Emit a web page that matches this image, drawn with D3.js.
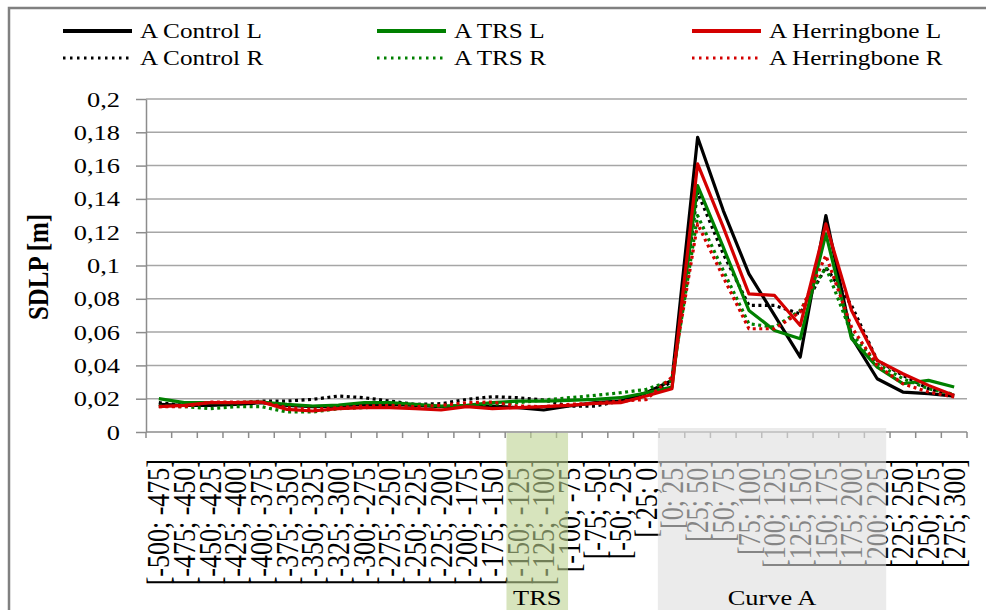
<!DOCTYPE html>
<html>
<head>
<meta charset="utf-8">
<script src="https://cdn.jsdelivr.net/npm/d3@7"></script>
<style>
  body { margin: 0; background: #fff; }
  text { font-family: "Liberation Serif", "Times New Roman", serif; fill: #000; }
</style>
</head>
<body>
<div id="chart"></div>
<script>
// SDLP per 25 m section, curve A

var categories = ["[-500; -475]", "[-475; -450]", "[-450; -425]", "[-425; -400]", "[-400; -375]",
  "[-375; -350]", "[-350; -325]", "[-325; -300]", "[-300; -275]", "[-275; -250]", "[-250; -225]",
  "[-225; -200]", "[-200; -175]", "[-175; -150]", "[-150; -125]", "[-125; -100]", "[-100; -75]",
  "[-75; -50]", "[-50; -25]", "[-25; 0]", "[0; 25]", "[25; 50]", "[50; 75]", "[75; 100]",
  "[100; 125]", "[125; 150]", "[150; 175]", "[175; 200]", "[200; 225]", "[225; 250]",
  "[250; 275]", "[275; 300]"];

var controlL = [0.0166, 0.016, 0.016, 0.0166, 0.0176, 0.016, 0.0152, 0.0156, 0.0166, 0.0166, 0.016,
  0.0152, 0.0156, 0.0156, 0.0146, 0.0132, 0.0156, 0.0176, 0.0186, 0.0236,
  0.031, 0.177, 0.133, 0.095, 0.070, 0.045, 0.130, 0.057, 0.032, 0.024, 0.023, 0.0216];
var controlR = [0.0176, 0.016, 0.0166, 0.0172, 0.0186, 0.0186, 0.0196, 0.0216, 0.0206, 0.0186, 0.0166,
  0.017, 0.0196, 0.0212, 0.0206, 0.0192, 0.0156, 0.0156, 0.0186, 0.0226,
  0.030, 0.144, 0.107, 0.076, 0.076, 0.071, 0.099, 0.076, 0.043, 0.034, 0.026, 0.022];
var trsL = [0.020, 0.0176, 0.0176, 0.0176, 0.018, 0.0166, 0.0156, 0.0162, 0.0176, 0.0176, 0.0166,
  0.0156, 0.016, 0.0176, 0.0186, 0.0186, 0.019, 0.0196, 0.0206, 0.0236,
  0.027, 0.148, 0.111, 0.073, 0.061, 0.056, 0.119, 0.056, 0.039, 0.029, 0.031, 0.027];
var trsR = [0.0156, 0.0152, 0.014, 0.0152, 0.0152, 0.012, 0.012, 0.014, 0.0146, 0.0152, 0.016,
  0.0152, 0.0166, 0.0166, 0.0176, 0.0192, 0.0206, 0.022, 0.0236, 0.0256,
  0.031, 0.130, 0.097, 0.065, 0.063, 0.073, 0.099, 0.059, 0.041, 0.032, 0.026, 0.0226];
var herrL = [0.0152, 0.016, 0.0176, 0.0176, 0.018, 0.0136, 0.0126, 0.014, 0.0146, 0.0146, 0.014,
  0.0132, 0.0152, 0.014, 0.0146, 0.0152, 0.016, 0.0172, 0.0176, 0.0216,
  0.026, 0.161, 0.123, 0.083, 0.082, 0.064, 0.125, 0.073, 0.043, 0.035, 0.028, 0.022];
var herrR = [0.0152, 0.0152, 0.018, 0.018, 0.018, 0.0146, 0.0136, 0.0146, 0.0156, 0.016, 0.0152,
  0.016, 0.0176, 0.018, 0.0156, 0.0152, 0.0166, 0.0172, 0.0186, 0.0195,
  0.033, 0.125, 0.093, 0.062, 0.062, 0.072, 0.106, 0.063, 0.040, 0.029, 0.024, 0.021];

var yTicks = [0, 0.02, 0.04, 0.06, 0.08, 0.1, 0.12, 0.14, 0.16, 0.18, 0.2];

// legend is filled row by row: L series on top, R series below
var series = [
  { name: "A Control L", values: controlL, color: "#000000", dotted: false, col: 0, row: 0 },
  { name: "A TRS L", values: trsL, color: "#008000", dotted: false, col: 1, row: 0 },
  { name: "A Herringbone L", values: herrL, color: "#d40000", dotted: false, col: 2, row: 0 },
  { name: "A Control R", values: controlR, color: "#000000", dotted: true, col: 0, row: 1 },
  { name: "A TRS R", values: trsR, color: "#008000", dotted: true, col: 1, row: 1 },
  { name: "A Herringbone R", values: herrR, color: "#d40000", dotted: true, col: 2, row: 1 }
];
var drawOrder = [3, 0, 4, 1, 5, 2];

// shaded zones under the axis, in category units
var zones = [
  { label: "TRS", from: 14.05, to: 16.45, fill: "#bcd291" },
  { label: "Curve A", from: 19.95, to: 28.85, fill: "#dddddd" }
];

var width = 986, height = 610;
var plotLeft = 146, plotRight = 967, plotTop = 99, plotBottom = 432;
var sx = 1.2; // the picture is a bit stretched sideways

var svg = d3.select("#chart").append("svg")
  .attr("width", width)
  .attr("height", height);

// outer frame
svg.append("rect")
  .attr("x", 9).attr("y", 8)
  .attr("width", width + 20).attr("height", height + 20)
  .attr("fill", "#fff")
  .attr("stroke", "#808080")
  .attr("stroke-width", 2.5);

var x = d3.scaleBand().domain(categories).range([plotLeft, plotRight]).paddingInner(0).paddingOuter(0);
var xi = d3.scaleLinear().domain([0, categories.length]).range([plotLeft, plotRight]);
var y = d3.scaleLinear().domain([0, 0.2]).range([plotBottom, plotTop]);

function fmt(v) { return String(+v.toFixed(2)).replace(".", ","); }

// gridlines
svg.append("g").selectAll("line")
  .data(yTicks.filter(function(d) { return d > 0; }))
  .enter().append("line")
  .attr("x1", plotLeft).attr("x2", plotRight)
  .attr("y1", function(d) { return y(d); })
  .attr("y2", function(d) { return y(d); })
  .attr("stroke", "#a6a6a6")
  .attr("stroke-width", 1.5);

// y axis
var yAxis = svg.append("g")
  .attr("transform", "translate(" + plotLeft + ",0)")
  .call(d3.axisLeft(y).tickValues(yTicks).tickSize(10).tickSizeOuter(0).tickFormat(""));
yAxis.select(".domain").attr("stroke", "#8c8c8c").attr("stroke-width", 1.5);
yAxis.selectAll(".tick line").attr("stroke", "#8c8c8c").attr("stroke-width", 1.5);

svg.append("g").selectAll("text")
  .data(yTicks)
  .enter().append("text")
  .attr("transform", function(d) { return "translate(120," + (y(d) + 7.5) + ") scale(" + sx + ",1)"; })
  .attr("text-anchor", "end")
  .style("font-size", "22px")
  .text(fmt);

svg.append("text")
  .attr("transform", "translate(48,267) scale(" + sx + ",1) rotate(-90)")
  .attr("text-anchor", "middle")
  .style("font-size", "25px")
  .style("font-weight", "bold")
  .text("SDLP [m]");

// x axis: ticks on the category boundaries
var bounds = d3.range(categories.length + 1);
var xAxis = svg.append("g");
xAxis.append("line")
  .attr("x1", plotLeft).attr("x2", plotRight)
  .attr("y1", plotBottom).attr("y2", plotBottom)
  .attr("stroke", "#8c8c8c").attr("stroke-width", 1.5);
xAxis.selectAll(".xt")
  .data(bounds)
  .enter().append("line")
  .attr("class", "xt")
  .attr("x1", function(d) { return xi(d); })
  .attr("x2", function(d) { return xi(d); })
  .attr("y1", plotBottom).attr("y2", plotBottom + 6)
  .attr("stroke", "#8c8c8c").attr("stroke-width", 1.5);

svg.append("g").selectAll("text")
  .data(categories)
  .enter().append("text")
  .attr("transform", function(d) {
    return "translate(" + (x(d) + x.bandwidth() / 2) + ",459) scale(" + sx + ",1) rotate(-90)";
  })
  .attr("text-anchor", "end")
  .attr("dy", "0.34em")
  .style("font-size", "26px")
  .text(function(d) { return d; });

// zones are laid over the labels, half see-through
svg.append("g").selectAll("rect")
  .data(zones)
  .enter().append("rect")
  .attr("x", function(d) { return xi(d.from); })
  .attr("width", function(d) { return xi(d.to) - xi(d.from); })
  .attr("y", function(d) { return d.label == "TRS" ? plotBottom + 1 : plotBottom - 4; })
  .attr("height", function(d) { return height - plotBottom + 4; })
  .attr("fill", function(d) { return d.fill; })
  .attr("fill-opacity", 0.6);

svg.append("g").selectAll("text")
  .data(zones)
  .enter().append("text")
  .attr("transform", function(d) { return "translate(" + (xi(d.from) + xi(d.to)) / 2 + ",605) scale(" + sx + ",1)"; })
  .attr("text-anchor", "middle")
  .style("font-size", "22px")
  .text(function(d) { return d.label; });

// series lines
var line = d3.line()
  .x(function(d, i) { return x(categories[i]) + x.bandwidth() / 2; })
  .y(function(d) { return y(d); });

svg.append("g").selectAll("path")
  .data(drawOrder.map(function(i) { return series[i]; }))
  .enter().append("path")
  .attr("d", function(d) { return line(d.values); })
  .attr("fill", "none")
  .attr("stroke", function(d) { return d.color; })
  .attr("stroke-width", 3.2)
  .attr("stroke-linejoin", "round")
  .attr("stroke-dasharray", function(d) { return d.dotted ? "3,3.5" : null; });

// legend
var colX = [63, 377, 692], rowY = [31, 58];
var legend = svg.append("g").selectAll("g")
  .data(series)
  .enter().append("g")
  .attr("transform", function(d) { return "translate(" + colX[d.col] + "," + rowY[d.row] + ")"; });
legend.append("line")
  .attr("x1", 0).attr("x2", 69)
  .attr("stroke", function(d) { return d.color; })
  .attr("stroke-width", function(d) { return d.dotted ? 3 : 4; })
  .attr("stroke-dasharray", function(d) { return d.dotted ? "2.5,4.5" : null; });
legend.append("text")
  .attr("transform", "translate(77,7) scale(" + sx + ",1)")
  .style("font-size", "21px")
  .text(function(d) { return d.name; });
</script>
</body>
</html>
